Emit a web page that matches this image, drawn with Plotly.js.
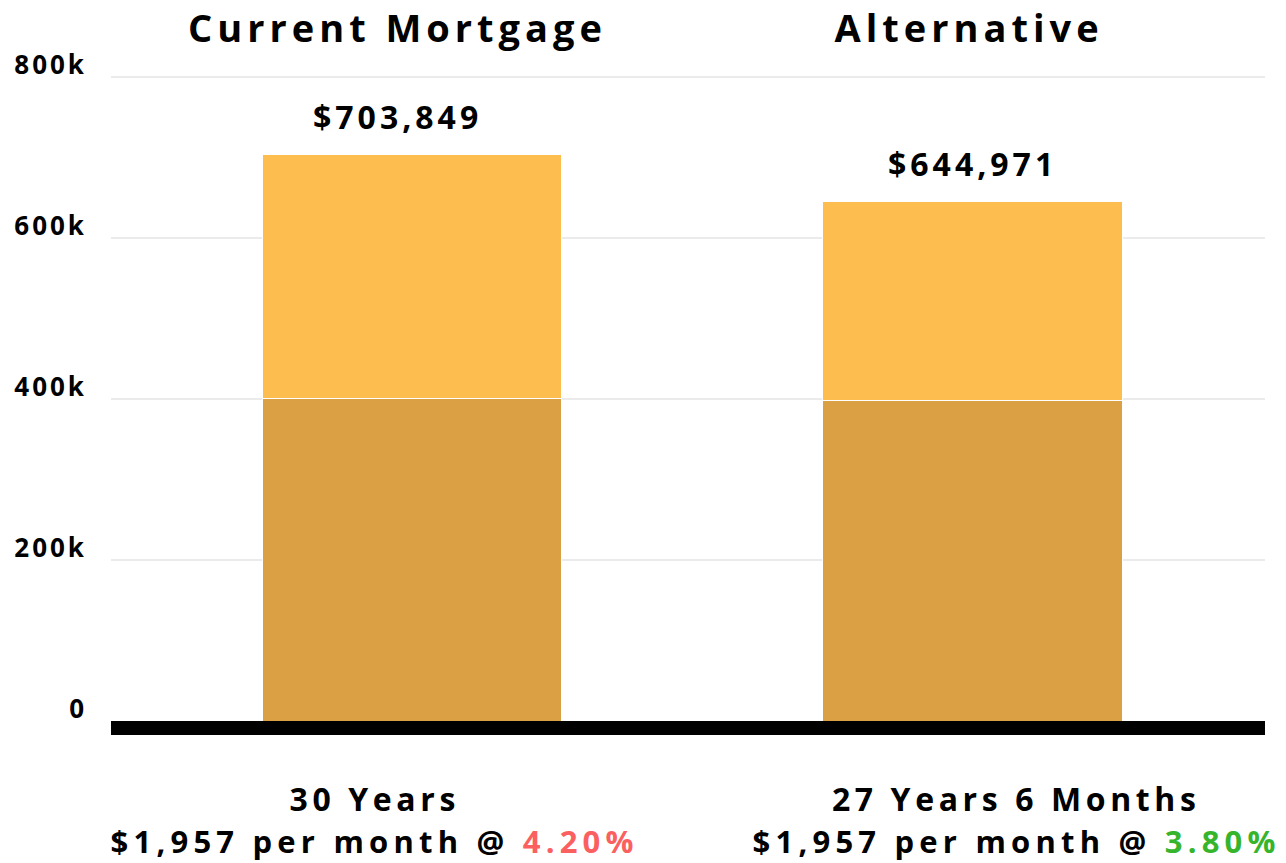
<!DOCTYPE html>
<html>
<head>
<meta charset="utf-8">
<script src="https://cdn.plot.ly/plotly-3.0.1.min.js"></script>
<style>
  html, body { margin: 0; padding: 0; background: #fff; }
  #chart { width: 1286px; height: 863px; }
  #chart .ytick text { letter-spacing: 3px; }
  #chart .annotation-text { letter-spacing: 4px; }
</style>
</head>
<body>
<div id="chart"></div>
<script>
// ---- data ----
const scenarios = ['Current Mortgage', 'Alternative'];
const principal = [401000, 398000];
const totalPaid = [703849, 644971];
const terms = ['30 Years', '27 Years 6 Months'];
const monthlyPayment = [1957, 1957];
const rates = [4.20, 3.80];
const rateColors = ['#fb6060', '#36b52c'];
const yTickVals = [0, 200000, 400000, 600000, 800000];
const yTickText = ['0', '200k', '400k', '600k', '800k'];

const interest = totalPaid.map((t, i) => t - principal[i]);
const money = v => '$' + v.toLocaleString('en-US');

const FONT = '"Open Sans", "Noto Sans", sans-serif';

const traces = [
  {
    type: 'bar', x: scenarios, y: principal, name: 'Principal',
    marker: { color: '#daa043', line: { color: '#ffffff', width: 1 } },
    hoverinfo: 'skip'
  },
  {
    type: 'bar', x: scenarios, y: interest, name: 'Interest',
    marker: { color: '#fdbe4f', line: { color: '#ffffff', width: 1 } },
    hoverinfo: 'skip'
  }
];

const annotations = [];
const titleShift = [-14, -3];
const valueShift = [-14, 0];
const labelShift = [-37, 44];
scenarios.forEach((s, i) => {
  annotations.push({
    x: s, xref: 'x', y: 1, yref: 'paper', yanchor: 'middle', yshift: 33, xshift: titleShift[i],
    text: '<b>' + s + '</b>', showarrow: false, borderpad: 0,
    font: { family: FONT, size: 38, color: '#000' }
  });
  annotations.push({
    x: s, xref: 'x', y: totalPaid[i], yref: 'y', yanchor: 'middle', yshift: 38, xshift: valueShift[i],
    text: '<b>' + money(totalPaid[i]) + '</b>', showarrow: false, borderpad: 0,
    font: { family: FONT, size: 32, color: '#000' }
  });
  annotations.push({
    x: s, xref: 'x', y: 0, yref: 'paper', yanchor: 'middle', yshift: -77, xshift: labelShift[i],
    text: '<b>' + terms[i] + '</b>', showarrow: false, borderpad: 0,
    font: { family: FONT, size: 32, color: '#000' }
  });
  annotations.push({
    x: s, xref: 'x', y: 0, yref: 'paper', yanchor: 'middle', yshift: -120, xshift: labelShift[i],
    text: '<b>' + money(monthlyPayment[i]) + ' per month @ <span style="color:' + rateColors[i] + '">' +
          rates[i].toFixed(2) + '%</span></b>',
    showarrow: false, borderpad: 0,
    font: { family: FONT, size: 31, color: '#000' }
  });
});

const layout = {
  width: 1286, height: 863,
  margin: { l: 111, r: 21, t: 60, b: 142, pad: 0 },
  paper_bgcolor: '#ffffff', plot_bgcolor: '#ffffff',
  barmode: 'stack', bargap: 0.466,
  showlegend: false,
  xaxis: {
    type: 'category', range: [-0.5365, 1.522],
    showgrid: false, zeroline: false,
    showline: true, linewidth: 14, linecolor: '#000000',
    showticklabels: false, ticks: ''
  },
  yaxis: {
    range: [0, 821100],
    tickvals: yTickVals, ticktext: yTickText,
    showgrid: true, gridcolor: '#ebebeb', gridwidth: 2,
    zeroline: false, showline: false, ticks: '',
    ticklabelshift: -12, ticklabelstandoff: 23,
    tickfont: { family: FONT, size: 26, color: '#000', weight: 'bold' }
  },
  annotations: annotations
};

Plotly.newPlot('chart', traces, layout, { displayModeBar: false, staticPlot: true }).then(() => {
  // per-annotation letter spacing: titles wider, bottom labels wider
  document.querySelectorAll('#chart .annotation').forEach((g, idx) => {
    const t = g.querySelector('.annotation-text');
    if (!t) return;
    const k = idx % 4;
    if (k === 0) t.style.letterSpacing = '5px';
    else if (k === 2) t.style.letterSpacing = '4.6px';
    else if (k === 3) t.style.letterSpacing = '5.2px';
  });
});
</script>
</body>
</html>
